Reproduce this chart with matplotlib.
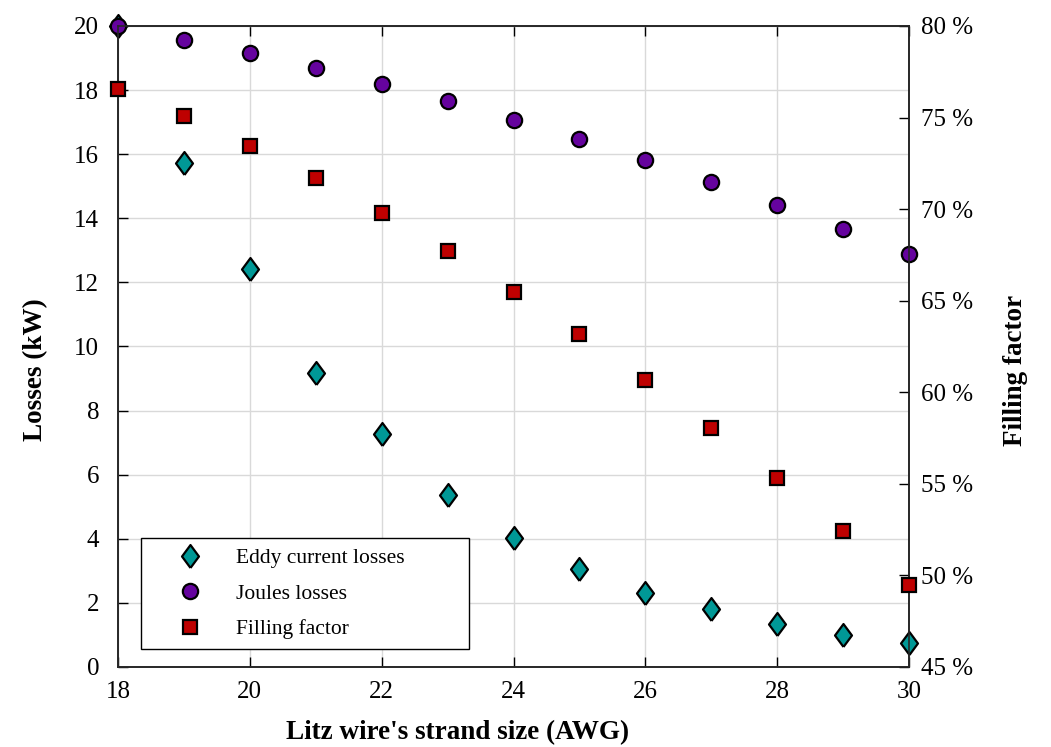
import matplotlib
matplotlib.use("Agg")
import matplotlib.pyplot as plt
from matplotlib.ticker import FuncFormatter

plt.rcParams['font.family'] = ['Liberation Serif', 'DejaVu Serif']

awg = [18, 19, 20, 21, 22, 23, 24, 25, 26, 27, 28, 29, 30]
eddy_kw = [20.0, 15.73, 12.42, 9.16, 7.26, 5.36, 4.03, 3.06, 2.30, 1.80, 1.34, 1.00, 0.74]
joule_kw = [20.0, 19.56, 19.15, 18.68, 18.18, 17.65, 17.07, 16.46, 15.81, 15.12, 14.41, 13.66, 12.89]
filling_pct = [76.57, 75.09, 73.47, 71.69, 69.78, 67.72, 65.50, 63.17, 60.67, 58.04, 55.30, 52.44, 49.48]

x_ticks = [18, 20, 22, 24, 26, 28, 30]
loss_ticks = [0, 2, 4, 6, 8, 10, 12, 14, 16, 18, 20]
fill_ticks = [45, 50, 55, 60, 65, 70, 75, 80]

teal = '#009896'
purple = '#65039e'
red = '#be0000'
diamond = [(0, -1), (0.74, 0), (0, 1), (-0.74, 0), (0, -1)]

fig = plt.figure(figsize=(10.51, 7.47), dpi=100)
ax = fig.add_axes([0.1123, 0.1071, 0.7526, 0.8581])
ax2 = ax.twinx()

h1, = ax.plot(awg, eddy_kw, linestyle='none', marker=diamond, ms=16.5,
              mfc=teal, mec='black', mew=1.6, clip_on=False, zorder=3,
              label='Eddy current losses')
h2, = ax.plot(awg, joule_kw, linestyle='none', marker='o', ms=11,
              mfc=purple, mec='black', mew=1.6, clip_on=False, zorder=4,
              label='Joules losses')
h3, = ax2.plot(awg, filling_pct, linestyle='none', marker='s', ms=10,
               mfc=red, mec='black', mew=1.6, clip_on=False, zorder=4,
               label='Filling factor')

ax.set_xlim(18, 30)
ax.set_ylim(0, 20)
ax2.set_ylim(45, 80)
ax.set_xticks(x_ticks)
ax.set_yticks(loss_ticks)
ax2.set_yticks(fill_ticks)
ax2.yaxis.set_major_formatter(FuncFormatter(lambda v, p: '%d %%' % v))

ax.grid(True, color='#d9d9d9', linewidth=1.0)
ax.set_axisbelow(True)

ax.tick_params(axis='x', direction='in', length=7, width=1, top=True,
               labelsize=18, pad=10)
ax.tick_params(axis='y', direction='in', length=7, width=1, right=False,
               labelsize=18, pad=13.5)
ax2.tick_params(axis='y', direction='in', length=7, width=1,
                labelsize=18, pad=8.5)
for a in (ax, ax2):
    for s in a.spines.values():
        s.set_linewidth(1.2)
        s.set_color('#262626')

# axis titles placed in figure coordinates
fig.text(36 / 1051, 1 - 370 / 747, 'Losses (kW)', fontsize=19.5,
         fontweight='bold', rotation=90, ha='center', va='center')
fig.text(1015 / 1051, 1 - 370 / 747, 'Filling factor', fontsize=19.5,
         fontweight='bold', rotation=90, ha='center', va='center')
fig.text(458 / 1051, 1 - 733 / 747, "Litz wire's strand size (AWG)",
         fontsize=19.5, fontweight='bold', ha='center', va='center')

leg = ax2.legend([h1, h2, h3], ['Eddy current losses', 'Joules losses', 'Filling factor'],
                 loc='lower left', bbox_to_anchor=(0.029, 0.028, 0.415, 0.175),
                 mode='expand', fontsize=15.5, frameon=True, fancybox=False,
                 edgecolor='black', framealpha=1, handlelength=3.66,
                 handletextpad=0.31, labelspacing=0.72, borderpad=0.45,
                 borderaxespad=0)
leg.get_frame().set_linewidth(1.0)

fig.savefig('out.png', dpi=100)
